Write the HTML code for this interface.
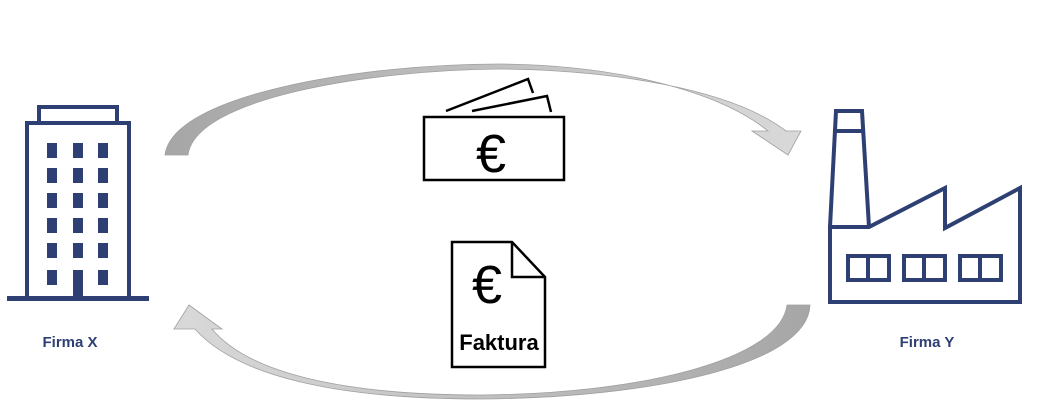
<!DOCTYPE html>
<html><head><meta charset="utf-8"><style>
html,body{margin:0;padding:0;background:#fff;}
body{width:1037px;height:412px;overflow:hidden;}
</style></head><body>
<svg width="1037" height="412" viewBox="0 0 1037 412" xmlns="http://www.w3.org/2000/svg">
<defs>
<linearGradient id="g1" x1="0" y1="0" x2="1" y2="0">
<stop offset="0" stop-color="#a6a6a6"/><stop offset="1" stop-color="#d9d9d9"/>
</linearGradient>
<linearGradient id="g2" x1="1" y1="0" x2="0" y2="0">
<stop offset="0" stop-color="#a6a6a6"/><stop offset="1" stop-color="#d9d9d9"/>
</linearGradient>
</defs>
<path d="M165,155 C172,95 360,64 500,64 C620,65 720,92 768,131 L752,131 L788,155 L801,131 L786,131 C730,88 610,70 500,69 C370,70 195,98 188,155 Z" fill="url(#g1)" stroke="#a0a0a0" stroke-width="0.8"/>
<path d="M810,305 C808,365 650,398 480,399 C350,399 240,380 195,329 L174,329 L189,305 L222,329 L212,329 C250,375 350,395 480,395 C640,394 780,360 787,305 Z" fill="url(#g2)" stroke="#a0a0a0" stroke-width="0.8"/>

<g fill="none" stroke="#2e3f73" stroke-width="4">
<rect x="27" y="123" width="102" height="175"/>
<rect x="39" y="107" width="78" height="16"/>
</g>
<rect x="7" y="296" width="142" height="5" fill="#2e3f73"/>
<g fill="#2e3f73">
<rect x="47" y="143" width="10" height="15"/><rect x="73" y="143" width="10" height="15"/><rect x="98" y="143" width="10" height="15"/>
<rect x="47" y="168" width="10" height="15"/><rect x="73" y="168" width="10" height="15"/><rect x="98" y="168" width="10" height="15"/>
<rect x="47" y="193" width="10" height="15"/><rect x="73" y="193" width="10" height="15"/><rect x="98" y="193" width="10" height="15"/>
<rect x="47" y="218" width="10" height="15"/><rect x="73" y="218" width="10" height="15"/><rect x="98" y="218" width="10" height="15"/>
<rect x="47" y="243" width="10" height="15"/><rect x="73" y="243" width="10" height="15"/><rect x="98" y="243" width="10" height="15"/>
<rect x="47" y="270" width="10" height="15"/><rect x="73" y="270" width="10" height="28"/><rect x="98" y="270" width="10" height="15"/>
</g>
<text x="70" y="347" text-anchor="middle" font-family="Liberation Sans, sans-serif" font-weight="bold" font-size="15" fill="#2e3f73">Firma X</text>

<g fill="none" stroke="#2e3f73" stroke-width="4" stroke-linejoin="miter">
<path d="M830,227 L869,227 L945,188 L945,228 L1020,188 L1020,302 L830,302 Z"/>
<path d="M830,227 L836,111 L862,111 L869,227"/>
<line x1="834" y1="131" x2="864" y2="131"/>
<rect x="848" y="256" width="41" height="24"/><line x1="868" y1="256" x2="868" y2="280"/>
<rect x="904" y="256" width="41" height="24"/><line x1="924" y1="256" x2="924" y2="280"/>
<rect x="960" y="256" width="41" height="24"/><line x1="980" y1="256" x2="980" y2="280"/>
</g>
<text x="927" y="347" text-anchor="middle" font-family="Liberation Sans, sans-serif" font-weight="bold" font-size="15" fill="#2e3f73">Firma Y</text>

<g fill="none" stroke="#000" stroke-width="2.5">
<rect x="424" y="117" width="140" height="63"/>
<path d="M446,111 L528,79 L533,93"/>
<path d="M472,111 L547,96 L551,112"/>
</g>
<text x="491" y="172" text-anchor="middle" font-family="Liberation Sans, sans-serif" font-size="54" fill="#000">€</text>

<path d="M452,242 L512,242 L545,277 L545,367 L452,367 Z" fill="#fff" stroke="#000" stroke-width="2.5"/>
<path d="M512,242 L512,277 L545,277" fill="none" stroke="#000" stroke-width="2.5"/>
<text x="487" y="303" text-anchor="middle" font-family="Liberation Sans, sans-serif" font-size="54" fill="#000">€</text>
<text x="499" y="350" text-anchor="middle" font-family="Liberation Sans, sans-serif" font-weight="bold" font-size="22" fill="#000">Faktura</text>
</svg>
</body></html>
